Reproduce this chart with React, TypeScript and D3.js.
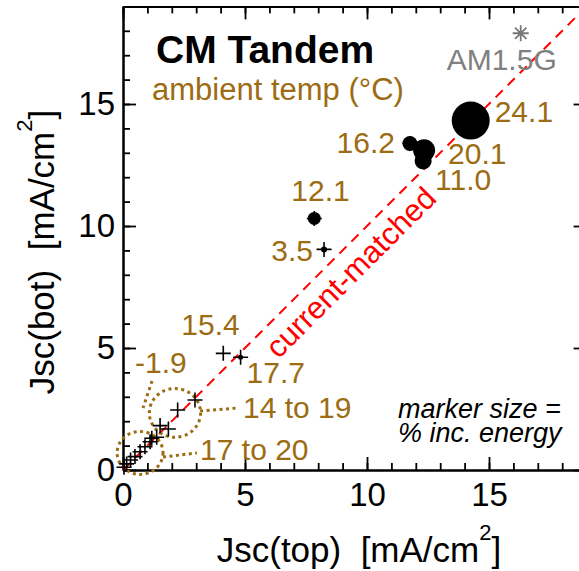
import React, { useEffect, useRef } from 'react'
import * as d3 from 'd3'

// Jsc of the top and bottom sub-cell, mA/cm2
const jscTop = [14.25, 12.34, 11.76, 12.3, 7.84, 8.24, 4.11, 4.82, 2.95, 2.24, 1.86, 1.52, 1.38, 1.18, 1.11, 0.9, 0.7, 0.49, 0.31, 0.15, 0.04]
const jscBot = [14.32, 13.1, 13.38, 12.66, 10.31, 9.04, 4.78, 4.62, 2.87, 2.46, 1.68, 1.82, 1.34, 1.3, 1.16, 0.95, 0.75, 0.55, 0.41, 0.25, 0.11]
// % increase in energy (marker size)
const energyInc = [38, 22, 15, 17, 13, 6, 0, 5, 0, 0, 0, 0, 0, 0, 0, 0, 0, 0, 0, 0, 0]
// ambient temperatures of the first eight points
const ambientTemp = ['24.1', '20.1', '16.2', '11.0', '12.1', '3.5', '15.4', '17.7']
const groupLabels = ['-1.9', '14 to 19', '17 to 20']
const am15g = [16.3, 17.9]
const tickLabels = [0, 5, 10, 15]

const W = 579
const H = 571
const GOLD = '#9c6c12'
const FONT = '"Liberation Sans", Arial, Helvetica, sans-serif'
const SP = '\u00a0\u00a0'

// label placement, pixels from the point
const tempOffsets: [number, number, string][] = [
  [24, 1, 'start'], [24, 14, 'start'], [-15, 9, 'end'], [12, 29, 'start'],
  [-23, -17, 'start'], [-11, 12, 'end'], [-42, -18, 'start'], [6, 26, 'start'],
]

export default function App() {
  const ref = useRef<SVGSVGElement>(null)

  useEffect(() => {
    const svg = d3.select(ref.current)
    svg.selectAll('*').remove()

    const x = d3.scaleLinear().domain([0, 19]).range([123, 586.6])
    const y = d3.scaleLinear().domain([0, 19]).range([470, 6.4])
    const r = d3.scaleLinear().domain([0, 40]).range([0, 20])
    const minor = d3.range(0, 20)

    const axes = svg.append('g')
    const styleAxis = (g) => {
      g.selectAll('.domain').attr('stroke', '#000').attr('stroke-width', 2)
      g.selectAll('.tick line').attr('stroke', '#000').attr('stroke-width', 1.8)
    }
    // minor ticks on all four sides
    const minorAxes = [
      [d3.axisBottom(x), `translate(0,${y(0)})`],
      [d3.axisTop(x), `translate(0,${y(19)})`],
      [d3.axisLeft(y), `translate(${x(0)},0)`],
      [d3.axisRight(y), `translate(${x(19)},0)`],
    ]
    minorAxes.forEach(([ax, tr]: any) => {
      axes.append('g').attr('transform', tr)
        .call(ax.tickValues(minor).tickSize(-7).tickSizeOuter(0).tickFormat(() => ''))
        .call(styleAxis)
    })
    // major ticks
    const majorNoLabel = [
      [d3.axisTop(x), `translate(0,${y(19)})`],
      [d3.axisRight(y), `translate(${x(19)},0)`],
    ]
    majorNoLabel.forEach(([ax, tr]: any) => {
      axes.append('g').attr('transform', tr)
        .call(ax.tickValues(tickLabels).tickSize(-13).tickSizeOuter(0).tickFormat(() => ''))
        .call(styleAxis)
    })
    const xAxis = axes.append('g').attr('transform', `translate(0,${y(0)})`)
      .call(d3.axisBottom(x).tickValues(tickLabels).tickSize(-13).tickSizeOuter(0).tickPadding(13))
      .call(styleAxis)
    const yAxis = axes.append('g').attr('transform', `translate(${x(0)},0)`)
      .call(d3.axisLeft(y).tickValues(tickLabels).tickSize(-13).tickSizeOuter(0).tickPadding(8))
      .call(styleAxis)
    ;[xAxis, yAxis].forEach((g) => {
      g.attr('font-family', FONT).attr('font-size', 33)
      g.selectAll('text').attr('fill', '#000')
    })

    // current-matched line
    svg.append('line')
      .attr('x1', x(0)).attr('y1', y(0)).attr('x2', x(19)).attr('y2', y(19))
      .attr('stroke', '#ff0000').attr('stroke-width', 2).attr('stroke-dasharray', '10,7')
    const mid = 8.72
    svg.append('text')
      .attr('transform', `translate(${x(mid) + 22.6},${y(mid) + 22.6}) rotate(-45)`)
      .attr('text-anchor', 'middle').attr('font-family', FONT).attr('font-size', 31)
      .attr('fill', '#ff0000').text('current-matched')

    // dotted group outlines and leaders
    const dotted = (sel) => sel.attr('fill', 'none').attr('stroke', GOLD)
      .attr('stroke-width', 3).attr('stroke-dasharray', '3,3.5')
    const groups = [
      { cx: 2.13, cy: 2.34, rx: 1.05, ry: 1.0 },
      { cx: 0.7, cy: 0.7, rx: 0.94, ry: 0.88 },
    ]
    groups.forEach((e) => {
      svg.append('ellipse')
        .attr('cx', x(e.cx)).attr('cy', y(e.cy))
        .attr('rx', x(e.rx) - x(0)).attr('ry', y(0) - y(e.ry))
        .call(dotted)
    })
    const leaders = [
      [[1.19, 3.65], [0.82, 2.54]],
      [[3.16, 2.42], [4.67, 2.54]],
      [[1.64, 0.53], [3.03, 0.7]],
    ]
    const line = d3.line().x((d) => x(d[0])).y((d) => y(d[1]))
    leaders.forEach((l) => svg.append('path').attr('d', line(l)).call(dotted))
    const groupPos = [[0.49, 3.98], [4.92, 2.13], [3.16, 0.41]]
    groupLabels.forEach((t, i) => {
      svg.append('text').attr('x', x(groupPos[i][0])).attr('y', y(groupPos[i][1]))
        .attr('font-family', FONT).attr('font-size', 30).attr('fill', GOLD).text(t)
    })

    // markers: circle sized by energy gain with a crosshair
    const pts = jscTop.map((v, i) => ({ x: v, y: jscBot[i], e: energyInc[i] }))
    const mk = svg.append('g')
    mk.selectAll('circle').data(pts.filter((d) => d.e > 0)).enter().append('circle')
      .attr('cx', (d) => x(d.x)).attr('cy', (d) => y(d.y)).attr('r', (d) => r(d.e))
      .attr('fill', '#000')
    mk.selectAll('path').data(pts).enter().append('path')
      .attr('d', (d) => {
        const px = x(d.x), py = y(d.y)
        return `M${px - 7.5},${py}H${px + 7.5}M${px},${py - 7.5}V${py + 7.5}`
      })
      .attr('stroke', '#000').attr('stroke-width', 1.6)

    // temperature labels
    ambientTemp.forEach((t, i) => {
      const o = tempOffsets[i]
      svg.append('text')
        .attr('x', x(jscTop[i]) + o[0]).attr('y', y(jscBot[i]) + o[1])
        .attr('text-anchor', o[2]).attr('font-family', FONT).attr('font-size', 30)
        .attr('fill', GOLD).text(t)
    })

    // AM1.5G reference
    const ax = x(am15g[0]), ay = y(am15g[1]), s = 8, d = 5.7
    svg.append('path')
      .attr('d', `M${ax - s},${ay}H${ax + s}M${ax},${ay - s}V${ay + s}M${ax - d},${ay - d}L${ax + d},${ay + d}M${ax - d},${ay + d}L${ax + d},${ay - d}`)
      .attr('stroke', '#777').attr('stroke-width', 1.8)
    svg.append('text').attr('x', 446.7).attr('y', 70)
      .attr('font-family', FONT).attr('font-size', 30).attr('fill', '#808080').text('AM1.5G')

    // titles and notes
    svg.append('text').attr('x', 156).attr('y', 63)
      .attr('font-family', FONT).attr('font-size', 39).attr('font-weight', 'bold').text('CM Tandem')
    svg.append('text').attr('x', 152).attr('y', 100)
      .attr('font-family', FONT).attr('font-size', 31).attr('fill', GOLD).text('ambient temp (°C)')
    const note = svg.append('text').attr('font-family', FONT).attr('font-size', 27)
      .attr('font-style', 'italic').attr('fill', '#000')
    note.append('tspan').attr('x', 398).attr('y', 418).text('marker size =')
    note.append('tspan').attr('x', 398).attr('y', 442).text('% inc. energy')

    const xt = svg.append('text').attr('x', 359).attr('y', 562).attr('text-anchor', 'middle')
      .attr('font-family', FONT).attr('font-size', 35).attr('fill', '#000')
    xt.append('tspan').text(`Jsc(top)${SP}[mA/cm`)
    xt.append('tspan').attr('font-size', 22).attr('dy', -22).text('2')
    xt.append('tspan').attr('dy', 22).text(']')

    const yt = svg.append('text').attr('transform', `translate(54,252) rotate(-90)`)
      .attr('text-anchor', 'middle').attr('font-family', FONT).attr('font-size', 35).attr('fill', '#000')
    yt.append('tspan').text(`Jsc(bot)${SP}[mA/cm`)
    yt.append('tspan').attr('font-size', 22).attr('dy', -22).text('2')
    yt.append('tspan').attr('dy', 22).text(']')
  }, [])

  return (
    <svg ref={ref} width={W} height={H}
      style={{ position: 'absolute', left: 0, top: 0, background: '#fff' }} />
  )
}
